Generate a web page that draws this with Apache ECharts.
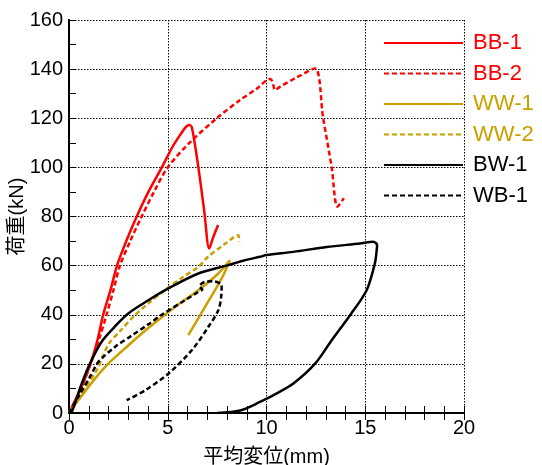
<!DOCTYPE html>
<html>
<head>
<meta charset="utf-8">
<script src="https://cdn.jsdelivr.net/npm/echarts@6/dist/echarts.min.js"></script>
<style>
  html, body { margin: 0; padding: 0; background: #fff; }
  #chart { width: 542px; height: 465px; }
</style>
</head>
<body>
<div id="chart"></div>
<script>
// 荷重-平均変位 curves, values [mm, kN]
var bb1 = [[0,0],[0.3,5],[0.64,10.6],[1.15,21.5],[1.45,30],[1.73,40],[2.1,50],[2.43,60],[2.9,70],[3.43,80],[4.02,90],
  [4.7,100],[5.25,108.5],[5.65,113.5],[5.92,116.5],[6.08,117.3],[6.22,116.3],[6.55,100],[6.85,82],[7.1,67],[7.3,71.5],[7.55,76.5]];
var bb2 = [[0,0],[0.5,8],[1.0,18],[1.6,32],[1.9,40],[2.25,50],[2.58,60],[3.1,70],[3.68,80],[4.3,90],[5.0,100],[6.1,110],
  [7.48,120],[8.66,127.4],[9.5,132],[10.18,136],[10.3,135],[10.43,131.5],[10.68,132.8],[11.5,136.5],[12.46,140.3],
  [12.86,120.5],[13.3,100],[13.59,84],[13.92,87.5]];
var ww1 = [[0,0],[0.47,5.2],[1.32,14],[1.99,20.1],[3.0,27.5],[4.0,34.5],[4.86,40],[5.5,44],[6.55,50],[7.56,56.8],[8.15,62.2],
  [7.73,54.8],[6.89,43.2],[6.04,31.7]];
var ww2 = [[0,0],[0.3,4],[0.8,10],[1.4,17.4],[2.0,28],[2.6,33.5],[3.3,39.5],[4.0,44.5],[4.86,50],[5.7,55],[6.55,59.5],
  [7.0,63.3],[7.8,68.3],[8.57,72.4],[8.62,69.7]];
var bw1 = [[0,0],[0.14,0.4],[0.6,11],[1.06,20.1],[1.65,29],[2.3,35],[3.0,40.5],[4.02,45.9],[5.03,50.7],[6.55,56.8],
  [8.07,60.2],[8.9,62.2],[9.67,63.6],[10.0,64.3],[11.36,65.6],[13.05,67.6],[14.73,69],[15.41,69.7],[15.6,68.3],
  [15.58,66.3],[15.49,61],[15.07,50],[14.23,39.8],[13.3,29.6],[12.46,20.1],[11.36,12],[10.5,7.9],[9.67,4.5],
  [8.66,1],[7.5,0]];
var wb1 = [[0,0],[0.5,7],[1.06,14.7],[1.49,20.8],[2.33,26.9],[3.17,31.5],[4.0,36],[4.7,40],[5.87,45.9],[6.55,49.3],
  [6.75,50.3],[6.6,51.5],[6.89,53.4],[7.3,53.6],[7.73,52],[7.7,47],[7.56,41.8],[7.05,35],[6.21,25.5],[5.03,16],
  [3.85,9.2],[2.92,5.2]];

var seriesNames = ['BB-1', 'BB-2', 'WW-1', 'WW-2', 'BW-1', 'WB-1'];
var seriesData = [bb1, bb2, ww1, ww2, bw1, wb1];
var colors = ['#ff0000', '#ff0000', '#c9a000', '#c9a000', '#000000', '#000000'];
var dashed = [false, true, false, true, false, true];

var font = 'Liberation Sans, Arial, "Noto Sans CJK JP", sans-serif';

var series = seriesNames.map(function (name, i) {
  return {
    name: name,
    type: 'line',
    data: seriesData[i],
    showSymbol: false,
    symbol: 'none',
    smooth: 0.3,
    animation: false,
    lineStyle: {
      color: colors[i],
      width: 2.5,
      type: dashed[i] ? [5, 3] : 'solid'
    },
    itemStyle: { color: colors[i] }
  };
});

var chart = echarts.init(document.getElementById('chart'));
chart.setOption({
  animation: false,
  grid: { left: 69, right: 78, top: 20, bottom: 52, containLabel: false, outerBoundsMode: 'none' },
  legend: {
    orient: 'vertical',
    left: 383,
    top: 32,
    padding: 0,
    itemWidth: 79,
    itemHeight: 20,
    itemGap: 8.5,
    itemStyle: { opacity: 0 },
    data: seriesNames.map(function (n, i) {
      return { name: n, textStyle: { color: colors[i] } };
    }),
    textStyle: { fontFamily: font, fontSize: 22, lineHeight: 20, padding: [0, 0, 0, 5] }
  },
  xAxis: [{
    type: 'value', min: 0, max: 20, interval: 5,
    name: '平均変位(mm)', nameLocation: 'middle', nameGap: 34, nameMoveOverlap: false,
    nameTextStyle: { fontFamily: font, fontSize: 20, color: '#000' },
    axisLine: { lineStyle: { color: '#000', width: 2 } },
    axisTick: { inside: true, length: 7, lineStyle: { color: '#000' } },
    minorTick: { show: true, splitNumber: 5, length: 7, lineStyle: { color: '#000' } },
    axisLabel: { fontFamily: font, fontSize: 20, color: '#000', margin: 5 },
    splitLine: { show: true, lineStyle: { color: '#000', type: [1.5, 1.5], width: 1 } }
  }, {
    type: 'value', min: 0, max: 20, interval: 5, position: 'top',
    axisLine: { lineStyle: { color: '#000', width: 2 } },
    axisTick: { inside: true, length: 7, lineStyle: { color: '#000' } },
    minorTick: { show: true, splitNumber: 5, length: 7, lineStyle: { color: '#000' } },
    axisLabel: { show: false },
    splitLine: { show: false }
  }],
  yAxis: [{
    type: 'value', min: 0, max: 160, interval: 20,
    name: '荷重(kN)', nameLocation: 'middle', nameGap: 42, nameMoveOverlap: false,
    nameTextStyle: { fontFamily: font, fontSize: 20, color: '#000' },
    axisLine: { show: true, lineStyle: { color: '#000', width: 2 } },
    axisTick: { show: true, inside: true, length: 7, lineStyle: { color: '#000' } },
    minorTick: { show: true, splitNumber: 2, length: 7, lineStyle: { color: '#000' } },
    axisLabel: { fontFamily: font, fontSize: 20, color: '#000', margin: 6 },
    splitLine: { show: true, lineStyle: { color: '#000', type: [1.5, 1.5], width: 1 } }
  }, {
    type: 'value', min: 0, max: 160, interval: 20, position: 'right',
    axisLine: { show: true, lineStyle: { color: '#000', width: 2 } },
    axisTick: { show: false },
    axisLabel: { show: false },
    splitLine: { show: false }
  }],
  series: series
});
</script>
</body>
</html>
